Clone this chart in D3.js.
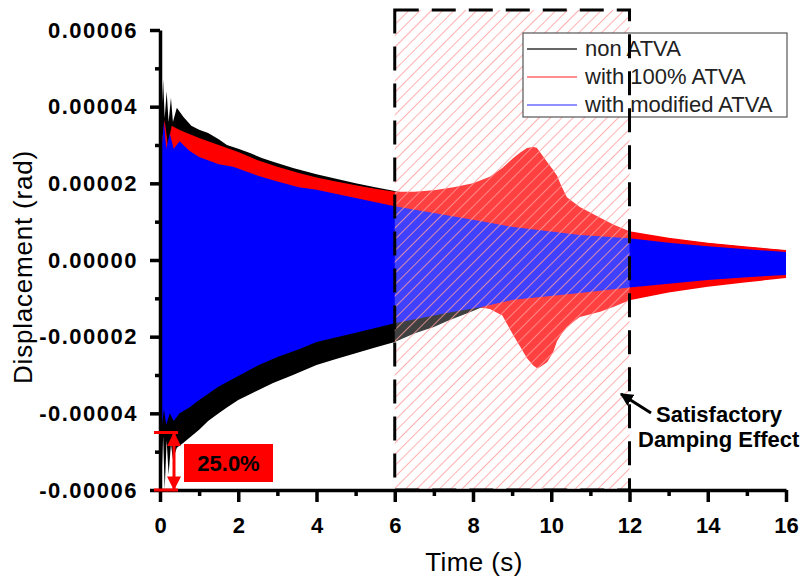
<!DOCTYPE html>
<meta charset="utf-8">
<style>
    body { margin: 0; background: #fff; }
    svg text { font-family: Arial, "Liberation Sans", sans-serif; }
</style>

<script src="https://d3js.org/d3.v7.min.js"></script>

<div id="my_dataviz"></div>

<script>
    // envelope of each response, values in units of 1e-5 rad
    var blackT  = [0, 0.03, 0.08, 0.12, 0.17, 0.22, 0.28, 0.33, 0.43, 0.6, 0.8, 1.0, 1.23, 1.5, 1.71, 2.0, 2.3, 2.6, 2.89, 3.4, 4.0, 4.5, 5.0, 5.5, 6.0, 6.5, 7.0, 7.33, 8.0, 8.18, 9, 10, 11, 12, 13, 14, 15, 16];
    var blackHi = [5.0, 3.6, 4.7, 3.7, 4.4, 3.6, 4.23, 3.6, 3.97, 3.73, 3.5, 3.4, 3.31, 3.15, 3.0, 2.9, 2.79, 2.66, 2.56, 2.4, 2.24, 2.12, 2.0, 1.9, 1.8, 1.7, 1.6, 1.55, 1.42, 1.38, 1.22, 1.06, 0.9, 0.72, 0.56, 0.44, 0.34, 0.25];
    var blackLo = [-5.2, -6.0, -4.6, -6.0, -4.7, -5.6, -4.8, -5.2, -4.9, -4.77, -4.6, -4.43, -4.2, -4.0, -3.85, -3.65, -3.5, -3.35, -3.21, -3.0, -2.74, -2.58, -2.43, -2.28, -2.14, -1.92, -1.75, -1.6, -1.33, -1.25, -1.15, -1.05, -1.0, -0.95, -0.8, -0.66, -0.55, -0.45];

    var redT  = [0, 0.05, 0.12, 0.2, 0.3, 0.5, 1.0, 1.5, 2.0, 2.5, 3.0, 3.55, 4.0, 4.5, 5.0, 5.5, 6.0, 6.5, 7.0, 7.5, 8.0, 8.43, 8.75, 9.03, 9.2, 9.38, 9.54, 9.63, 9.71, 9.9, 10.05, 10.15, 10.25, 10.4, 10.73, 11.25, 11.6, 12, 13, 14, 15, 16];
    var redHi = [3.7, 3.1, 3.65, 3.0, 3.5, 3.39, 3.18, 3.0, 2.82, 2.6, 2.43, 2.27, 2.15, 2.05, 1.95, 1.86, 1.78, 1.78, 1.82, 1.9, 2.0, 2.17, 2.4, 2.66, 2.8, 2.92, 2.95, 2.93, 2.82, 2.55, 2.35, 2.2, 1.95, 1.64, 1.38, 1.1, 0.92, 0.75, 0.58, 0.45, 0.35, 0.26];
    var redLo = [-3.5, -3.4, -3.4, -3.35, -3.3, -3.2, -3.1, -2.9, -2.7, -2.5, -2.35, -2.2, -2.05, -1.92, -1.8, -1.7, -1.6, -1.5, -1.4, -1.3, -1.2, -1.28, -1.45, -1.96, -2.25, -2.56, -2.75, -2.82, -2.8, -2.66, -2.4, -2.11, -1.95, -1.75, -1.49, -1.35, -1.22, -1.05, -0.85, -0.7, -0.58, -0.47];

    var blueT  = [0, 0.04, 0.1, 0.16, 0.25, 0.35, 0.5, 0.75, 1.0, 1.5, 1.87, 2.5, 3.0, 3.55, 4.0, 5.0, 6.0, 7.33, 8.18, 9.03, 10.73, 12, 13, 14, 15, 16];
    var blueHi = [3.65, 2.9, 3.6, 2.9, 3.3, 2.9, 3.1, 2.85, 2.69, 2.5, 2.43, 2.2, 2.05, 1.9, 1.83, 1.62, 1.4, 1.17, 1.02, 0.86, 0.65, 0.57, 0.45, 0.36, 0.28, 0.21];
    var blueLo = [-4.0, -4.4, -3.9, -4.3, -4.0, -4.2, -4.0, -3.85, -3.65, -3.3, -3.1, -2.75, -2.53, -2.33, -2.14, -1.9, -1.65, -1.38, -1.23, -1.04, -0.86, -0.72, -0.62, -0.52, -0.45, -0.39];

    var seriesNames = ["non ATVA", "with 100% ATVA", "with modified ATVA"];

    // axes
    var xTicks = [0, 2, 4, 6, 8, 10, 12, 14, 16];
    var xMinor = [1, 3, 5, 7, 9, 11, 13, 15];
    var yTicks = [-0.00006, -0.00004, -0.00002, 0, 0.00002, 0.00004, 0.00006];
    var yTickLabels = ["-0.00006", "-0.00004", "-0.00002", "0.00000", "0.00002", "0.00004", "0.00006"];
    var yMinor = [-0.00005, -0.00003, -0.00001, 0.00001, 0.00003, 0.00005];

    // annotations
    var boxRange = [6, 12];           // hatched time window (s)
    var dropRange = [-0.00006, -0.000045];
    var dropLabel = "25.0%";

    var svg = d3.select("#my_dataviz")
        .append("svg")
        .attr("width", 802)
        .attr("height", 581);

    var x = d3.scaleLinear().domain([0, 16]).range([160, 786]);
    var y = d3.scaleLinear().domain([-0.00006, 0.00006]).range([490, 30]);

    var defs = svg.append("defs");
    var hatch = defs.append("pattern")
        .attr("id", "hatch")
        .attr("patternUnits", "userSpaceOnUse")
        .attr("width", 8)
        .attr("height", 8)
        .attr("patternTransform", "rotate(45)");
    hatch.append("line")
        .attr("x1", 0).attr("y1", 0).attr("x2", 0).attr("y2", 8)
        .attr("stroke", "#ff9c9c")
        .attr("stroke-width", 1.6);

    function marker(id, color, size) {
        defs.append("marker")
            .attr("id", id)
            .attr("viewBox", "0 0 10 10")
            .attr("refX", 9).attr("refY", 5)
            .attr("markerUnits", "userSpaceOnUse")
            .attr("markerWidth", size).attr("markerHeight", size)
            .attr("orient", "auto-start-reverse")
            .append("path")
            .attr("d", "M0,0 L10,5 L0,10 z")
            .attr("fill", color);
    }
    marker("arrowRed", "#ff0000", 14);
    marker("arrowBlack", "#000", 13);

    // envelopes
    function drawEnvelope(T, hi, lo, color) {
        var pts = T.map(function(t, i) {
            return { t: t, hi: hi[i] * 1e-5, lo: lo[i] * 1e-5 };
        });
        svg.append("path")
            .datum(pts)
            .attr("fill", color)
            .attr("d", d3.area()
                .x(function(d) { return x(d.t); })
                .y0(function(d) { return y(d.lo); })
                .y1(function(d) { return y(d.hi); }));
    }
    drawEnvelope(blackT, blackHi, blackLo, "#000000");
    drawEnvelope(redT, redHi, redLo, "#ff0000");
    drawEnvelope(blueT, blueHi, blueLo, "#0000ff");

    // hatched window
    var boxTop = 10;
    svg.append("rect")
        .attr("x", x(boxRange[0]))
        .attr("y", boxTop)
        .attr("width", x(boxRange[1]) - x(boxRange[0]))
        .attr("height", y(-0.00006) - boxTop)
        .attr("fill", "#fff")
        .attr("fill-opacity", 0.25);
    svg.append("rect")
        .attr("x", x(boxRange[0]))
        .attr("y", boxTop)
        .attr("width", x(boxRange[1]) - x(boxRange[0]))
        .attr("height", y(-0.00006) - boxTop)
        .attr("fill", "url(#hatch)");

    // x axis
    svg.append("g")
        .attr("transform", "translate(0," + y(-0.00006) + ")")
        .call(d3.axisBottom(x).tickValues(xMinor).tickSize(6).tickFormat(""))
        .call(function(g) { g.select(".domain").remove(); })
        .selectAll("line").attr("stroke-width", 3.5);
    var xAxis = svg.append("g")
        .attr("transform", "translate(0," + y(-0.00006) + ")")
        .call(d3.axisBottom(x).tickValues(xTicks).tickSizeInner(12).tickSizeOuter(0).tickPadding(15));
    xAxis.select(".domain").attr("stroke-width", 3.5);
    xAxis.selectAll("line").attr("stroke-width", 3.5);
    xAxis.selectAll("text")
        .style("font-size", "22px")
        .style("font-weight", "bold")
        .attr("fill", "#000");

    // y axis
    svg.append("g")
        .attr("transform", "translate(" + x(0) + ",0)")
        .call(d3.axisLeft(y).tickValues(yMinor).tickSize(5).tickFormat(""))
        .call(function(g) { g.select(".domain").remove(); })
        .selectAll("line").attr("stroke-width", 3.5);
    var yAxis = svg.append("g")
        .attr("transform", "translate(" + x(0) + ",0)")
        .call(d3.axisLeft(y).tickValues(yTicks).tickSizeInner(10).tickSizeOuter(0).tickPadding(12)
            .tickFormat(function(d, i) { return yTickLabels[i]; }));
    yAxis.select(".domain").attr("stroke-width", 3.5);
    yAxis.selectAll("line").attr("stroke-width", 3.5);
    yAxis.selectAll("text")
        .style("font-size", "22px")
        .style("font-weight", "bold")
        .style("letter-spacing", "1.5px")
        .attr("fill", "#000");

    // axis titles
    svg.append("text")
        .attr("x", 474)
        .attr("y", 571)
        .attr("text-anchor", "middle")
        .style("font-size", "26px")
        .style("letter-spacing", "0.4px")
        .text("Time (s)");
    svg.append("text")
        .attr("transform", "translate(32,267) rotate(-90)")
        .attr("text-anchor", "middle")
        .style("font-size", "26px")
        .style("letter-spacing", "0.8px")
        .text("Displacement (rad)");

    // legend
    var legendColors = ["#333333", "#ff6a6a", "#6a6aff"];
    var legend = svg.append("g");
    legend.append("rect")
        .attr("x", 523).attr("y", 33)
        .attr("width", 264).attr("height", 84)
        .attr("fill", "#fff")
        .attr("stroke", "#555")
        .attr("stroke-width", 1.2);
    seriesNames.forEach(function(name, i) {
        var ly = 49 + i * 28;
        legend.append("line")
            .attr("x1", 527).attr("x2", 577)
            .attr("y1", ly).attr("y2", ly)
            .attr("stroke", legendColors[i])
            .attr("stroke-width", 1.3);
        legend.append("text")
            .attr("x", 585)
            .attr("y", ly + 7)
            .style("font-size", "22px")
            .attr("fill", "#222")
            .text(name);
    });

    // dashed border of the window
    svg.append("rect")
        .attr("x", x(boxRange[0]))
        .attr("y", boxTop)
        .attr("width", x(boxRange[1]) - x(boxRange[0]))
        .attr("height", y(-0.00006) - boxTop)
        .attr("fill", "none")
        .attr("stroke", "#000")
        .attr("stroke-width", 3)
        .attr("stroke-dasharray", "24,13");

    // 25% reduction marker
    [dropRange[0], dropRange[1]].forEach(function(v) {
        svg.append("line")
            .attr("x1", 154).attr("x2", 178)
            .attr("y1", y(v)).attr("y2", y(v))
            .attr("stroke", "#ff0000")
            .attr("stroke-width", 3);
    });
    svg.append("line")
        .attr("x1", 174).attr("x2", 174)
        .attr("y1", y(dropRange[1]) + 1).attr("y2", y(dropRange[0]) - 1)
        .attr("stroke", "#ff0000")
        .attr("stroke-width", 3)
        .attr("marker-start", "url(#arrowRed)")
        .attr("marker-end", "url(#arrowRed)");
    svg.append("rect")
        .attr("x", 184).attr("y", 444)
        .attr("width", 89).attr("height", 38)
        .attr("fill", "#ff0000");
    svg.append("text")
        .attr("x", 228.5).attr("y", 471)
        .attr("text-anchor", "middle")
        .style("font-size", "22px")
        .style("font-weight", "bold")
        .text(dropLabel);

    // satisfactory damping note
    svg.append("line")
        .attr("x1", 651).attr("y1", 413)
        .attr("x2", 621).attr("y2", 394)
        .attr("stroke", "#000")
        .attr("stroke-width", 3)
        .attr("marker-end", "url(#arrowBlack)");
    svg.append("text")
        .attr("x", 656).attr("y", 422)
        .style("font-size", "22px")
        .style("font-weight", "bold")
        .text("Satisfactory");
    svg.append("text")
        .attr("x", 638).attr("y", 447)
        .style("font-size", "22px")
        .style("font-weight", "bold")
        .text("Damping Effect");
</script>
